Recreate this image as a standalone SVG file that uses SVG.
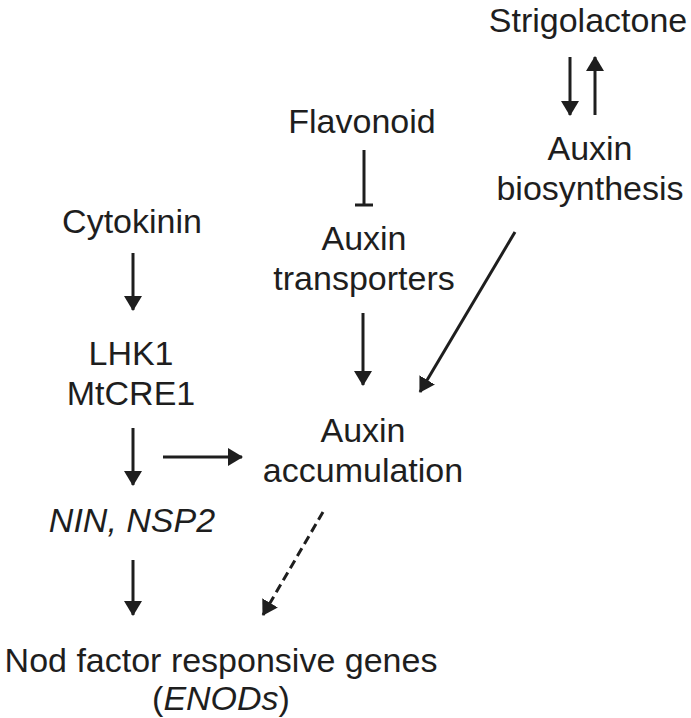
<svg xmlns="http://www.w3.org/2000/svg" width="691" height="718" viewBox="0 0 691 718">
<style>
text{font-family:"Liberation Sans",Arial,sans-serif;font-size:34px;fill:#1e1e1e;text-anchor:middle}
.it{font-style:italic}
.c{stroke:#1e1e1e;stroke-width:3;fill:none}
.d{stroke-dasharray:9 5}
</style>
<defs>
<marker id="ah" viewBox="0 0 15 18" markerUnits="userSpaceOnUse" markerWidth="15" markerHeight="18" refX="14" refY="9" orient="auto">
<path d="M0,0 L15,9 L0,18 z" fill="#1e1e1e"/>
</marker>
</defs>
<rect width="691" height="718" fill="#fff"/>
<g id="strigolactone"><text x="588" y="32">Strigolactone</text></g>
<g id="auxin-biosynthesis"><text x="590" y="160">Auxin</text><text x="590" y="200">biosynthesis</text></g>
<g id="flavonoid"><text x="362" y="133">Flavonoid</text></g>
<g id="auxin-transporters"><text x="364" y="250">Auxin</text><text x="364" y="290">transporters</text></g>
<g id="cytokinin"><text x="132" y="233">Cytokinin</text></g>
<g id="lhk1"><text x="131" y="365">LHK1</text><text x="131" y="405">MtCRE1</text></g>
<g id="auxin-accumulation"><text x="363" y="442">Auxin</text><text x="363" y="482">accumulation</text></g>
<g id="nin"><text class="it" x="132" y="532">NIN, NSP2</text></g>
<g id="enods"><text x="221" y="672">Nod factor responsive genes</text><text x="221" y="710">(<tspan class="it">ENODs</tspan>)</text></g>
<g id="connectors">
<line class="c" x1="570" y1="57" x2="570" y2="115" marker-end="url(#ah)"/>
<line class="c" x1="595" y1="115" x2="595" y2="57" marker-end="url(#ah)"/>
<line class="c" x1="364" y1="150" x2="364" y2="205"/>
<line class="c" x1="355" y1="205" x2="373" y2="205"/>
<line class="c" x1="363" y1="313" x2="363" y2="385" marker-end="url(#ah)"/>
<line class="c" x1="515" y1="232" x2="420" y2="392" marker-end="url(#ah)"/>
<line class="c" x1="133" y1="253" x2="133" y2="310" marker-end="url(#ah)"/>
<line class="c" x1="133" y1="428" x2="133" y2="485" marker-end="url(#ah)"/>
<line class="c" x1="163" y1="457" x2="242" y2="457" marker-end="url(#ah)"/>
<line class="c" x1="133" y1="560" x2="133" y2="615" marker-end="url(#ah)"/>
<line class="c d" x1="323" y1="512" x2="263" y2="615" marker-end="url(#ah)"/>
</g>
</svg>
